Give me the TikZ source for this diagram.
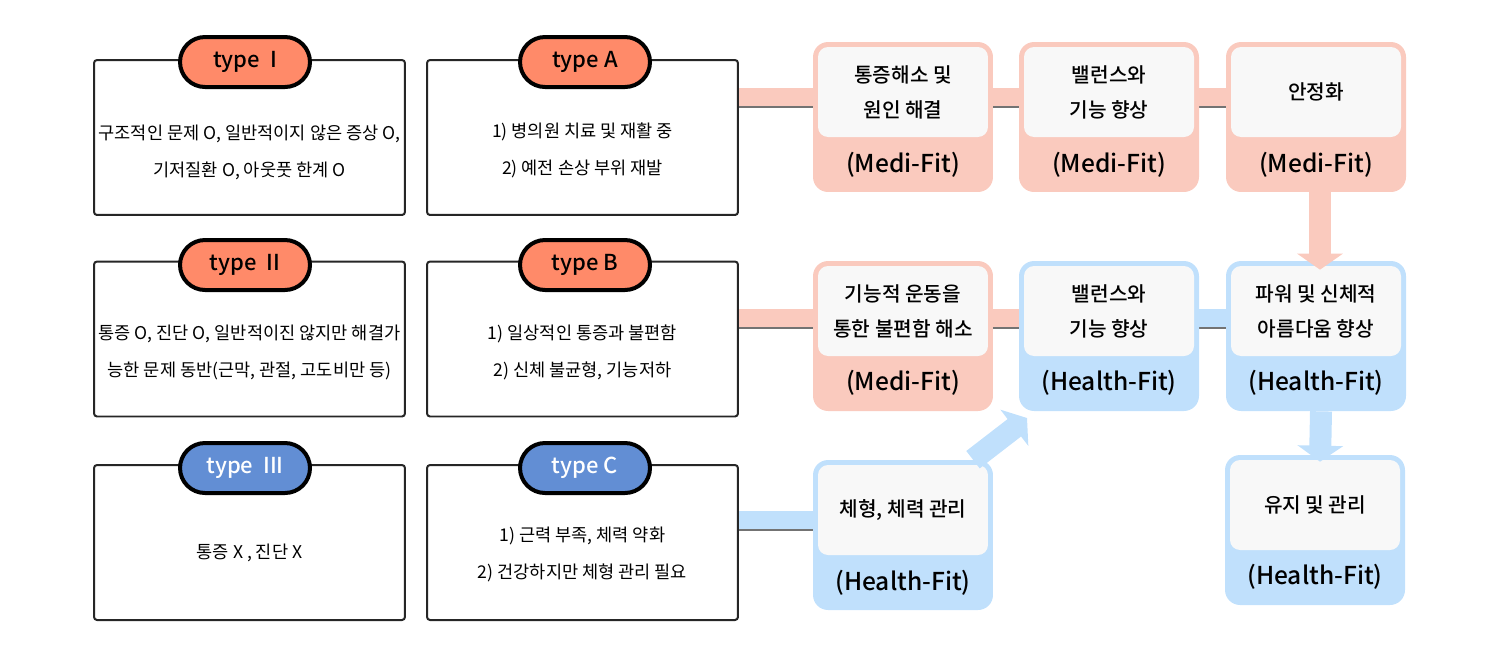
\documentclass[tikz,border=0pt]{standalone}
\usepackage{fontspec}
\setmainfont{Noto Sans CJK KR}
\newfontfamily\boldkr{Noto Sans CJK KR Medium}
\usetikzlibrary{arrows.meta,backgrounds}
\definecolor{Pill1}{RGB}{255,138,105}
\definecolor{Pill2}{RGB}{98,142,212}
\definecolor{Pink}{RGB}{250,202,190}
\definecolor{Sky}{RGB}{192,224,252}
\definecolor{Paper}{RGB}{248,248,248}

\tikzset{
  typebox/.style={draw=black!85,line width=0.04cm,rounded corners=0.06cm,fill=white,
    minimum width=6.22cm,minimum height=3.1cm},
  boxtext/.style={align=center,font=\fontsize{10}{21}\selectfont},
  pill/.style={draw=black,line width=0.08cm,rounded corners=0.5cm,fill=#1,
    minimum width=2.6cm,minimum height=1cm,font=\boldkr\fontsize{12.5}{14}\selectfont},
  card/.style={fill=#1,rounded corners=0.3cm,minimum width=3.6cm,minimum height=3cm},
  paper/.style={fill=Paper,rounded corners=0.2cm,minimum width=3.4cm,minimum height=1.8cm,
    align=center,font=\boldkr\fontsize{11.5}{20}\selectfont},
  tag/.style={font=\boldkr\fontsize{14}{16}\selectfont},
  band/.style={draw=#1,line width=0.36cm},
  seam/.style={draw=black!55,line width=0.05cm,transform canvas={yshift=-0.19cm}},
  down/.style={draw=#1,line width=0.44cm,-{Triangle[width=0.9cm,length=0.32cm]}},
}

\begin{document}
\begin{tikzpicture}[x=0.02cm,y=-0.02cm]
  \useasboundingbox (0,0) rectangle (1500,654);

  % type boxes, left column
  \node[typebox] (bI)   at (249.5,137.5) {};
  \node[boxtext] (xI)   at (249.5,152) {구조적인 문제 O, 일반적이지 않은 증상 O,\\기저질환 O, 아웃풋 한계 O};
  \node[typebox] (bII)  at (249.5,339) {};
  \node[boxtext] (xII)  at (249.5,352) {통증 O, 진단 O, 일반적이진 않지만 해결가\\능한 문제 동반(근막, 관절, 고도비만 등)};
  \node[typebox] (bIII) at (249.5,542.5) {};
  \node[boxtext] (xIII) at (249.5,553) {통증 X , 진단 X};
  \node[pill=Pill1] (pI)   at (245,62)  {type \ I};
  \node[pill=Pill1] (pII)  at (245,265) {type \ II};
  \node[pill=Pill2,text=white] (pIII) at (245,468) {type \ III};

  % type boxes, second column
  \node[typebox] (bA) at (582.5,137.5) {};
  \node[boxtext] (xA) at (582.5,150) {1) 병의원 치료 및 재활 중\\2) 예전 손상 부위 재발};
  \node[typebox] (bB) at (582.5,339) {};
  \node[boxtext] (xB) at (582.5,352) {1) 일상적인 통증과 불편함\\2) 신체 불균형, 기능저하};
  \node[typebox] (bC) at (582.5,542.5) {};
  \node[boxtext] (xC) at (582.5,554) {1) 근력 부족, 체력 약화\\2) 건강하지만 체형 관리 필요};
  \node[pill=Pill1] (pA) at (585,62)  {type A};
  \node[pill=Pill1] (pB) at (585,265) {type B};
  \node[pill=Pill2,text=white] (pC) at (585,468) {type C};

  % program cards, first row
  \node[card=Pink] (c11) at (903,117) {};
  \node[paper] (w11) at (903,92) {통증해소 및\\원인 해결};
  \node[tag] (t11) at (903,165) {(Medi-Fit)};
  \node[card=Pink] (c12) at (1109,117) {};
  \node[paper] (w12) at (1109,92) {밸런스와\\기능 향상};
  \node[tag] (t12) at (1109,165) {(Medi-Fit)};
  \node[card=Pink] (c13) at (1316,117) {};
  \node[paper] (w13) at (1316,92) {안정화};
  \node[tag] (t13) at (1316,165) {(Medi-Fit)};

  % program cards, second row
  \node[card=Pink] (c21) at (903,336) {};
  \node[paper] (w21) at (903,311) {기능적 운동을\\통한 불편함 해소};
  \node[tag] (t21) at (903,383) {(Medi-Fit)};
  \node[card=Sky] (c22) at (1109,336) {};
  \node[paper] (w22) at (1109,311) {밸런스와\\기능 향상};
  \node[tag] (t22) at (1109,383) {(Health-Fit)};
  \node[card=Sky] (c23) at (1316,336) {};
  \node[paper] (w23) at (1316,311) {파워 및 신체적\\아름다움 향상};
  \node[tag] (t23) at (1316,383) {(Health-Fit)};

  % program cards, third row
  \node[card=Sky] (c31) at (903,535) {};
  \node[paper] (w31) at (903,510) {체형, 체력 관리};
  \node[tag] (t31) at (903,583) {(Health-Fit)};
  \node[card=Sky] (c33) at (1315,530) {};
  \node[paper] (w33) at (1315,505) {유지 및 관리};
  \node[tag] (t33) at (1315,577) {(Health-Fit)};

  \begin{scope}[on background layer]
    % bands between boxes and cards
    \coordinate (r1) at (0,97);
    \coordinate (r2) at (0,318);
    \coordinate (r3) at (0,520);
    \draw[seam] (bA.east |- r1) -- (c13.west |- r1);
    \draw[band=Pink] (bA.east |- r1) -- (c13.west |- r1);
    \draw[seam] (bB.east |- r2) -- (c23.west |- r2);
    \draw[band=Pink] (bB.east |- r2) -- (c22.west |- r2);
    \draw[band=Sky] (c22.east |- r2) -- (c23.west |- r2);
    \draw[seam] (bC.east |- r3) -- (c31.west |- r3);
    \draw[band=Sky] (bC.east |- r3) -- (c31.west |- r3);
  \end{scope}

  % arrows between rows
  \draw[down=Pink] ([xshift=0.08cm]c13.south) -- ([xshift=0.08cm,yshift=-0.18cm]c23.north);
  \draw[down=Sky] ([xshift=0.1cm]c23.south) -- ([xshift=0.1cm,yshift=-0.14cm]c33.north);
  \coordinate (d1) at (1027,418);
  \draw[down=Sky] ([xshift=1.4cm]c31.north) -- (d1);
\end{tikzpicture}
\end{document}
